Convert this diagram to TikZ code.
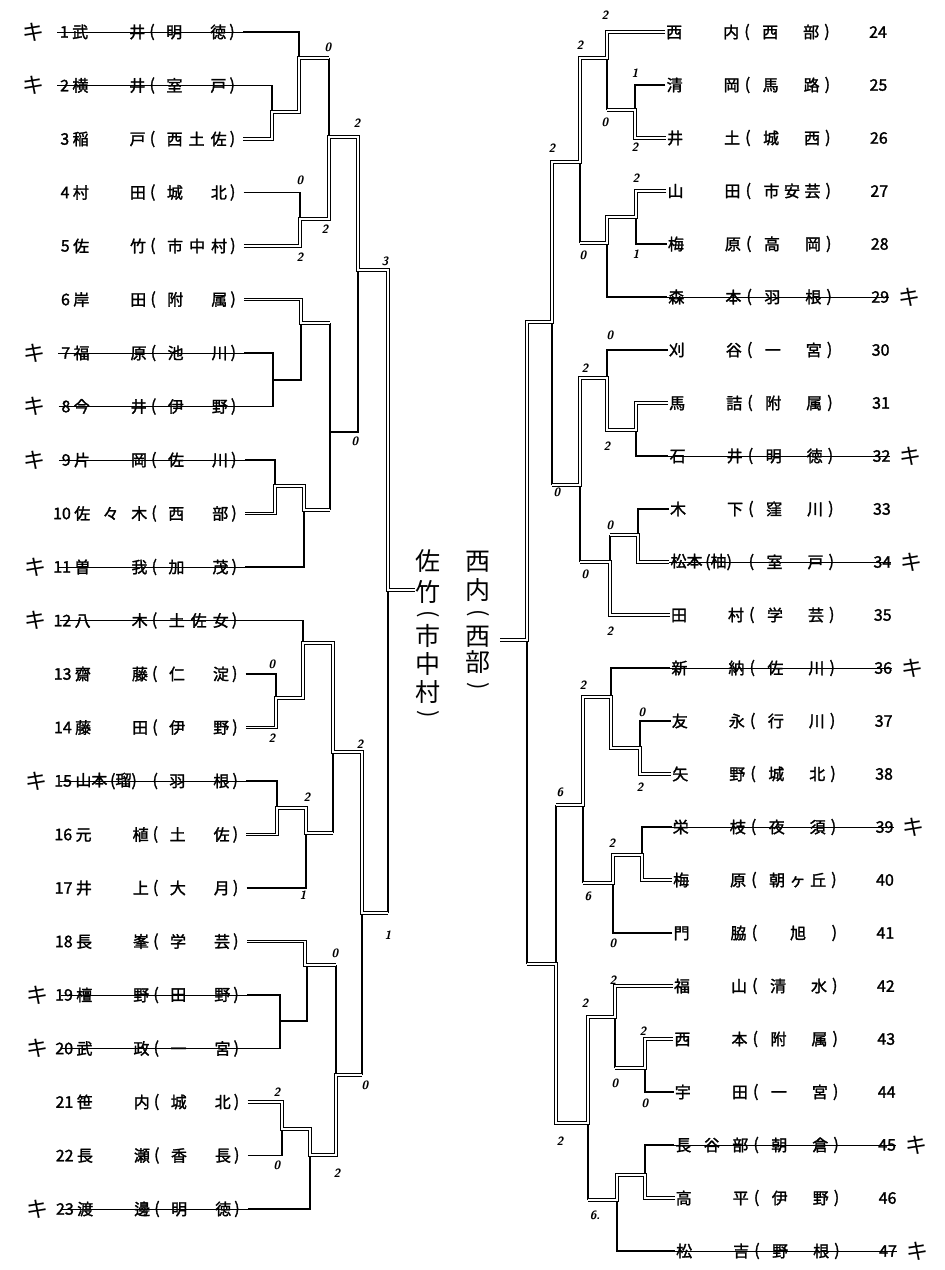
\documentclass[tikz,border=0pt]{standalone}
\usepackage{fontspec}
\newfontfamily\jp{Noto Sans CJK JP}[FakeBold=1.6]
\newfontfamily\jpl{Noto Sans CJK JP}
\tikzset{
  lose/.style={line width=1.2pt, line join=miter},
  win/.style={line width=0.9pt, double=white, double distance=1.6pt, line join=miter},
  strike/.style={line width=0.9pt},
  txt/.style={inner sep=0pt, font=\jp\fontsize{16}{16}\selectfont},
  kimark/.style={inner sep=0pt, font=\jpl\fontsize{22}{22}\selectfont},
  score/.style={inner sep=0pt, font=\sffamily\bfseries\itshape\fontsize{12}{12}\selectfont},
  vtext/.style={inner sep=0pt, font=\jpl\fontsize{25}{25}\selectfont},
  vparen/.style={inner sep=0pt, rotate=-90, font=\jpl\fontsize{22}{22}\selectfont},
}
\newcommand\Lrow[5]{%
  \pgfmathsetmacro\yy{32+(#1-1)*53.5}%
  \pgfmathsetmacro\ss{5*(#1-1)/22}%
  \coordinate (La#1) at (243+\ss,\yy);
  \node[txt,anchor=east] (Lnum#1) at (69+\ss,\yy) {#2};
  \node[txt,anchor=west] (Lname#1) at (72+\ss,\yy) {\makebox[73pt][l]{#3}};
  \node[txt] (Lpo#1) at (152+\ss,\yy) {(};
  \node[txt,anchor=west] (Lsch#1) at (166+\ss,\yy) {\makebox[60pt][l]{#4}};
  \node[txt] (Lpc#1) at (232+\ss,\yy) {)};
  \ifnum#5=1
    \draw[strike] (57+\ss,\yy) -- (La#1);
    \node[kimark] (Lk#1) at (33+\ss,\yy) {キ};
  \fi
}
\newcommand\Rrow[4]{%
  \pgfmathsetmacro\yy{32+(#1-24)*53}%
  \pgfmathsetmacro\ss{10*(#1-24)/23}%
  \coordinate (Ra#1) at (665+\ss,\yy);
  \node[txt,anchor=west] (Rname#1) at (666+\ss,\yy) {\makebox[73pt][l]{#2}};
  \node[txt] (Rpo#1) at (747+\ss,\yy) {(};
  \node[txt,anchor=west] (Rsch#1) at (762+\ss,\yy) {\makebox[57pt][l]{#3}};
  \node[txt] (Rpc#1) at (827+\ss,\yy) {)};
  \node[txt] (Rnum#1) at (878+\ss,\yy) {#1};
  \ifnum#4=1
    \draw[strike] (Ra#1) -- (887+\ss,\yy);
    \node[kimark] (Rk#1) at (907+\ss,\yy) {キ};
  \fi
}
\newcommand\vch[4]{\node[vtext] (#1) at (#2,#3) {#4};}
\begin{document}
\begin{tikzpicture}[x=1pt,y=-1pt]
\fill[white] (0,0) rectangle (945,1270);
\path[use as bounding box] (0,0) rectangle (945,1270);

% ---------- left entries ----------
\Lrow{1}{1}{武\hfill 井}{明\hfill 徳}{1}
\Lrow{2}{2}{横\hfill 井}{室\hfill 戸}{1}
\Lrow{3}{3}{稲\hfill 戸}{西\hfill 土\hfill 佐}{0}
\Lrow{4}{4}{村\hfill 田}{城\hfill 北}{0}
\Lrow{5}{5}{佐\hfill 竹}{市\hfill 中\hfill 村}{0}
\Lrow{6}{6}{岸\hfill 田}{附\hfill 属}{0}
\Lrow{7}{7}{福\hfill 原}{池\hfill 川}{1}
\Lrow{8}{8}{今\hfill 井}{伊\hfill 野}{1}
\Lrow{9}{9}{片\hfill 岡}{佐\hfill 川}{1}
\Lrow{10}{10}{佐\hfill 々\hfill 木}{西\hfill 部}{0}
\Lrow{11}{11}{曽\hfill 我}{加\hfill 茂}{1}
\Lrow{12}{12}{八\hfill 木}{土\hfill 佐\hfill 女}{1}
\Lrow{13}{13}{齋\hfill 藤}{仁\hfill 淀}{0}
\Lrow{14}{14}{藤\hfill 田}{伊\hfill 野}{0}
\Lrow{15}{15}{山本\,(瑠)}{羽\hfill 根}{1}
\Lrow{16}{16}{元\hfill 植}{土\hfill 佐}{0}
\Lrow{17}{17}{井\hfill 上}{大\hfill 月}{0}
\Lrow{18}{18}{長\hfill 峯}{学\hfill 芸}{0}
\Lrow{19}{19}{檀\hfill 野}{田\hfill 野}{1}
\Lrow{20}{20}{武\hfill 政}{一\hfill 宮}{1}
\Lrow{21}{21}{笹\hfill 内}{城\hfill 北}{0}
\Lrow{22}{22}{長\hfill 瀬}{香\hfill 長}{0}
\Lrow{23}{23}{渡\hfill 邊}{明\hfill 徳}{1}

% ---------- right entries ----------
\Rrow{24}{西\hfill 内}{西\hfill 部}{0}
\Rrow{25}{清\hfill 岡}{馬\hfill 路}{0}
\Rrow{26}{井\hfill 土}{城\hfill 西}{0}
\Rrow{27}{山\hfill 田}{市\hfill 安\hfill 芸}{0}
\Rrow{28}{梅\hfill 原}{高\hfill 岡}{0}
\Rrow{29}{森\hfill 本}{羽\hfill 根}{1}
\Rrow{30}{刈\hfill 谷}{一\hfill 宮}{0}
\Rrow{31}{馬\hfill 詰}{附\hfill 属}{0}
\Rrow{32}{石\hfill 井}{明\hfill 徳}{1}
\Rrow{33}{木\hfill 下}{窪\hfill 川}{0}
\Rrow{34}{松本\,(柚)}{室\hfill 戸}{1}
\Rrow{35}{田\hfill 村}{学\hfill 芸}{0}
\Rrow{36}{新\hfill 納}{佐\hfill 川}{1}
\Rrow{37}{友\hfill 永}{行\hfill 川}{0}
\Rrow{38}{矢\hfill 野}{城\hfill 北}{0}
\Rrow{39}{栄\hfill 枝}{夜\hfill 須}{1}
\Rrow{40}{梅\hfill 原}{朝\hfill ヶ\hfill 丘}{0}
\Rrow{41}{門\hfill 脇}{\hfill 旭\hfill\null}{0}
\Rrow{42}{福\hfill 山}{清\hfill 水}{0}
\Rrow{43}{西\hfill 本}{附\hfill 属}{0}
\Rrow{44}{宇\hfill 田}{一\hfill 宮}{0}
\Rrow{45}{長\hfill 谷\hfill 部}{朝\hfill 倉}{1}
\Rrow{46}{高\hfill 平}{伊\hfill 野}{0}
\Rrow{47}{松\hfill 吉}{野\hfill 根}{1}

\coordinate (Cl) at (415,590);
\coordinate (Cr) at (500,640);

% ---------- left bracket: losing lines ----------
\draw[lose] (La1) -| (299,58);
\draw[lose] (La2) -| (272,112);
\draw[lose] (329,58) -- (329,137);
\draw[lose] (La4) -| (300,219);
\draw[lose] (330,323) -- (330,510);
\draw[lose] (330,432) -- (358,432) -- (358,270);
\draw[lose] (La7) -| (273,380);
\draw[lose] (La8) -| (273,380) -| (301,323);
\draw[lose] (La9) -| (275,486);
\draw[lose] (La11) -| (304,510);
\draw[lose] (La12) -| (303,643);
\draw[lose] (La13) -| (276,698);
\draw[lose] (388,913) -- (388,590);
\draw[lose] (La15) -| (277,808);
\draw[lose] (333,833) -- (333,752);
\draw[lose] (La17) -| (306,833);
\draw[lose] (336,965) -- (336,1075);
\draw[lose] (La19) -| (280,1021);
\draw[lose] (La20) -| (280,1021) -| (307,965);
\draw[lose] (362,1075) -- (362,913);
\draw[lose] (La22) -| (282,1129);
\draw[lose] (La23) -| (310,1155);

% ---------- left bracket: winning lines ----------
\draw[win] (La3) -| (272,112) -| (299,58) -- (329,58);
\draw[win] (La5) -| (300,219) -| (329,137) -| (358,270) -| (388,590) -- (Cl);
\draw[win] (La6) -| (301,323) -- (330,323);
\draw[win] (La10) -| (275,486) -| (304,510) -- (330,510);
\draw[win] (La14) -| (276,698) -| (303,643) -| (333,752) -| (362,913) -- (388,913);
\draw[win] (La16) -| (277,808) -| (306,833) -- (333,833);
\draw[win] (La18) -| (305,965) -- (336,965);
\draw[win] (La21) -| (282,1129) -| (310,1155) -| (336,1075) -- (362,1075);

% ---------- right bracket: losing lines ----------
\draw[lose] (Ra25) -| (635,110);
\draw[lose] (607,110) -- (607,58);
\draw[lose] (580,243) -- (580,162);
\draw[lose] (Ra28) -| (636,217);
\draw[lose] (Ra29) -| (607,243);
\draw[lose] (Ra30) -| (607,378);
\draw[lose] (552,485) -- (552,322);
\draw[lose] (Ra32) -| (636,430);
\draw[lose] (Ra33) -| (638,535);
\draw[lose] (610,535) -- (610,562);
\draw[lose] (580,562) -- (580,485);
\draw[lose] (Ra36) -| (611,697);
\draw[lose] (Ra37) -| (640,748);
\draw[lose] (556,805) -- (556,964);
\draw[lose] (Ra39) -| (642,855);
\draw[lose] (583,883) -- (583,805);
\draw[lose] (Ra41) -| (613,883);
\draw[lose] (527,964) -- (527,640);
\draw[lose] (615,1068) -- (615,1017);
\draw[lose] (Ra44) -| (645,1068);
\draw[lose] (Ra45) -| (645,1175);
\draw[lose] (588,1200) -- (588,1123);
\draw[lose] (Ra47) -| (617,1200);

% ---------- right bracket: winning lines ----------
\draw[win] (Ra24) -| (607,58) -| (580,162) -| (552,322) -| (527,640) -- (Cr);
\draw[win] (Ra26) -| (635,110) -- (607,110);
\draw[win] (Ra27) -| (636,217) -| (607,243) -- (580,243);
\draw[win] (Ra31) -| (636,430) -| (607,378) -| (580,485) -- (552,485);
\draw[win] (Ra34) -| (638,535) -- (610,535);
\draw[win] (Ra35) -| (610,562) -- (580,562);
\draw[win] (Ra38) -| (640,748) -| (611,697) -| (583,805) -- (556,805);
\draw[win] (Ra40) -| (642,855) -| (613,883) -- (583,883);
\draw[win] (Ra42) -| (615,1017) -| (588,1123) -| (556,964) -- (527,964);
\draw[win] (Ra43) -| (645,1068) -- (615,1068);
\draw[win] (Ra46) -| (645,1175) -| (617,1200) -- (588,1200);

% ---------- scores ----------
\foreach \x/\y/\t [count=\k] in {328/47/0, 357/123/2, 300/180/0, 325/229/2, 300/257/2,
  385/261/3, 355/441/0, 272/664/0, 272/738/2, 360/744/2, 307/797/2, 303/895/1,
  388/935/1, 335/953/0, 277/1092/2, 277/1165/0, 365/1085/0, 337/1173/2}
  {\node[score] (sl\k) at (\x,\y) {\t};}
\foreach \x/\y/\t [count=\k] in {605/15/2, 580/45/2, 635/73/1, 605/122/0, 635/147/2,
  552/148/2, 636/178/2, 636/254/1, 583/255/0, 610/335/0, 585/368/2, 607/446/2,
  557/492/0, 610/525/0, 585/574/0, 610/631/2, 583/685/2, 642/712/0, 640/787/2,
  560/792/6, 612/843/2, 588/896/6, 613/943/0, 613/980/2, 585/1003/2, 643/1031/2,
  615/1083/0, 645/1103/0, 560/1141/2, 595/1215/6.}
  {\node[score] (sr\k) at (\x,\y) {\t};}

% ---------- finalists (vertical) ----------
\vch{va1}{428}{561}{佐}
\vch{va2}{428}{592}{竹}
\node[vparen] (va3) at (428,614) {(};
\vch{va4}{428}{636}{市}
\vch{va5}{428}{664}{中}
\vch{va6}{428}{692}{村}
\node[vparen] (va7) at (428,714) {)};
\vch{vb1}{478}{562}{西}
\vch{vb2}{478}{590}{内}
\node[vparen] (vb3) at (478,613) {(};
\vch{vb4}{478}{637}{西}
\vch{vb5}{478}{662}{部}
\node[vparen] (vb6) at (478,686) {)};
\end{tikzpicture}
\end{document}
